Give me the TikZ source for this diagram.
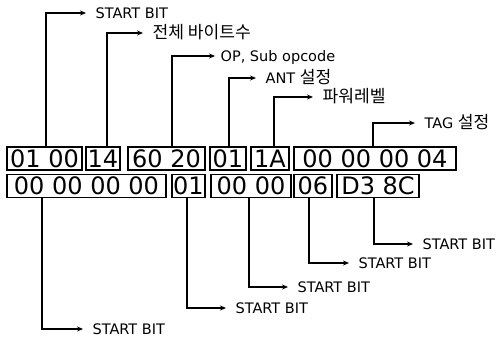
\documentclass[tikz,border=0pt]{standalone}
\usepackage{fontspec}
\setmainfont{DejaVu Sans}
\newfontfamily\kr[Scale=1.18]{Noto Sans CJK KR}
\usetikzlibrary{arrows.meta}
\usetikzlibrary{positioning}

\begin{document}
\begin{tikzpicture}[x=1pt,y=-1pt,line width=1.2pt,
	>={Stealth[length=6pt,width=5pt]},
	byte/.style={draw,line width=1.3pt,inner sep=0pt,minimum height=23pt,
		text height=17pt,text depth=0pt,font=\fontsize{24}{24}\selectfont},
	tag/.style={anchor=west,inner sep=0pt,text height=11pt,text depth=0pt,
		font=\fontsize{14.5}{15}\selectfont},
	lead/.style={->,shorten >=9pt}]

	\useasboundingbox (0,0) rectangle (501,341);

	% first row
	\node[byte, minimum width=75pt] (start1) at (44.5,158.5) {01 00};
	\node[byte, minimum width=34pt] (len) at (103,158.5) {14};
	\node[byte, minimum width=77pt] (opc) at (166.5,158.5) {60 20};
	\node[byte, minimum width=36pt] (ant) at (228,158.5) {01};
	\node[byte, minimum width=38pt] (pwr) at (270,158.5) {1A};
	\node[byte, minimum width=162pt] (tag) at (375,158.5) {00 00 00 04};

	% second row
	\node[byte, minimum width=159pt] (d1) at (86.5,186) {00 00 00 00};
	\node[byte, minimum width=33pt] (d2) at (188.5,186) {01};
	\node[byte, minimum width=80pt] (d3) at (251,186) {00 00};
	\node[byte, minimum width=38pt] (d4) at (313,186) {06};
	\node[byte, minimum width=82pt] (crc) at (378,186) {D3 8C};

	% labels above
	\node[tag] (t1) at (95,13) {START BIT};
	\node[tag] (t2) at (152,33) {\kr 전체 바이트수};
	\node[tag] (t3) at (220,56) {OP, Sub opcode};
	\node[tag] (t4) at (265,78) {ANT {\kr 설정}};
	\node[tag] (t5) at (322,97) {\kr 파워레벨};
	\node[tag] (t6) at (424,123) {TAG {\kr 설정}};

	% labels below
	\node[tag] (s1) at (92,329) {START BIT};
	\node[tag] (s2) at (235,308) {START BIT};
	\node[tag] (s3) at (297,287) {START BIT};
	\node[tag] (s4) at (358,263) {START BIT};
	\node[tag] (s5) at (422,244) {START BIT};

	\draw[lead] ([xshift=1.5pt]start1.north) |- (t1.west);
	\draw[lead] ([xshift=4pt]len.north) |- (t2.west);
	\draw[lead,shorten >=5pt] ([xshift=5.5pt]opc.north) |- (t3.west);
	\draw[lead] ([xshift=1pt]ant.north) |- (t4.west);
	\draw[lead] ([xshift=4pt]pwr.north) |- (t5.west);
	\draw[lead] ([xshift=-2pt]tag.north) |- (t6.west);

	\draw[lead] ([xshift=-44.5pt]d1.south) |- (s1.west);
	\draw[lead] ([xshift=-1.5pt]d2.south) |- (s2.west);
	\draw[lead] ([xshift=-2pt]d3.south) |- (s3.west);
	\draw[lead] ([xshift=-4pt]d4.south) |- (s4.west);
	\draw[lead] ([xshift=-4pt]crc.south) |- (s5.west);
\end{tikzpicture}
\end{document}
